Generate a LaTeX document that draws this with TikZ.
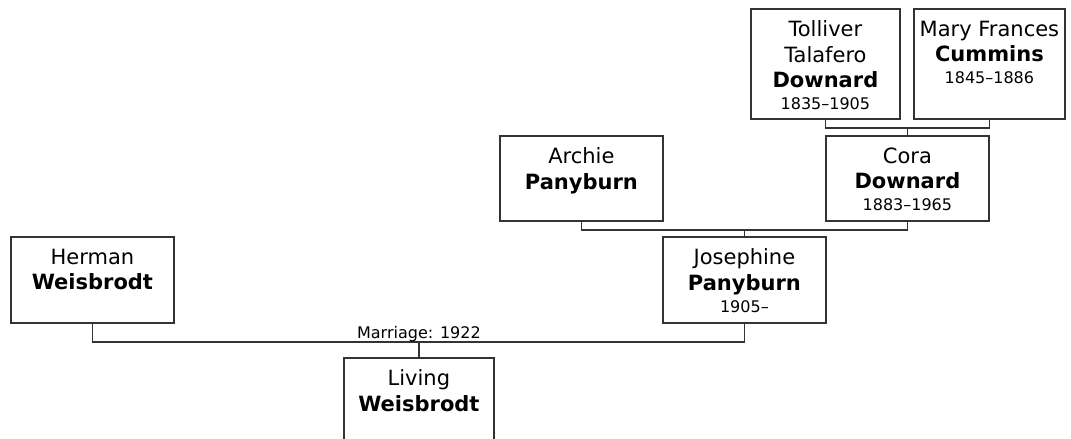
\documentclass[tikz,border=0pt]{standalone}
\usepackage{fontspec}
\setmainfont{DejaVu Sans}
\usetikzlibrary{calc}
\definecolor{EdgeGray}{HTML}{333333}
\newcommand{\namesize}{\fontsize{21}{25.5}\selectfont}
\newcommand{\datesize}{\fontsize{16}{22}\selectfont}
\newcommand{\card}[3]{\begin{minipage}[t][#2][t]{#1}\centering\vspace*{12pt}#3\end{minipage}}

\begin{document}
\begin{tikzpicture}[x=1pt,y=-1pt,
  person/.style={draw=EdgeGray,line width=1.8pt,inner sep=0pt,anchor=north west,fill=white},
  link/.style={draw=EdgeGray,line width=1.8pt}]
\useasboundingbox (0,0) rectangle (1071,439);
\clip (0,0) rectangle (1071,439);
% people
\node[person] (herman) at (10,236) {\card{163pt}{86pt}{{\namesize Herman\par\textbf{Weisbrodt}\par}}};
\node[person] (living) at (343,357) {\card{150pt}{100pt}{{\namesize Living\par\textbf{Weisbrodt}\par}}};
\node[person] (josephine) at (662,236) {\card{163pt}{86pt}{{\namesize Josephine\par\textbf{Panyburn}\par}{\datesize 1905–\par}}};
\node[person] (archie) at (499,135) {\card{163pt}{85pt}{{\namesize Archie\par\textbf{Panyburn}\par}}};
\node[person] (cora) at (825,135) {\card{163pt}{85pt}{{\namesize Cora\par\textbf{Downard}\par}{\datesize 1883–1965\par}}};
\node[person] (tolliver) at (750,8) {\card{149pt}{110pt}{{\namesize Tolliver\par Talafero\par\textbf{Downard}\par}{\datesize 1835–1905\par}}};
\node[person] (mary) at (913,8) {\card{151pt}{110pt}{{\namesize Mary Frances\par\textbf{Cummins}\par}{\datesize 1845–1886\par}}};
% family lines
\coordinate (wed) at ($(living.north)+(0,-15)$);
\coordinate (jparents) at ($(archie.south)!.5!(cora.south)+(0,8)$);
\coordinate (cparents) at ($(tolliver.south)!.5!(mary.south)+(0,8)$);
\draw[link] (herman.south) |- (wed) -| (josephine.south);
\draw[link] (wed) -- (living.north);
\node[font=\datesize,anchor=south,inner sep=0pt] (wedlabel) at (wed) {Marriage: 1922};
\draw[link] (archie.south) |- (jparents) -| (cora.south);
\draw[link] (jparents) -- (josephine.north);
\draw[link] (tolliver.south) |- (cparents) -| (mary.south);
\draw[link] (cparents) -- (cora.north);
\end{tikzpicture}
\end{document}
